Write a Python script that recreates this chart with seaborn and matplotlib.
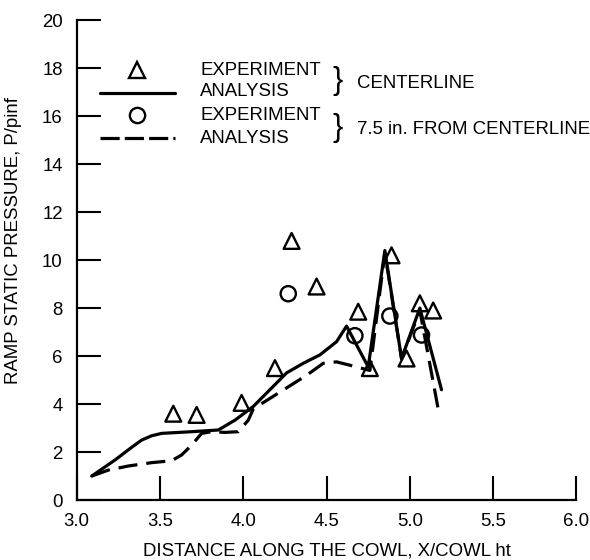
import matplotlib
matplotlib.use("Agg")
import matplotlib.pyplot as plt
import seaborn as sns
import pandas as pd

# ---- data ----
tri_x = [3.58, 3.72, 3.99, 4.19, 4.29, 4.44, 4.69, 4.76, 4.89, 4.98, 5.06, 5.14]
tri_y = [3.6, 3.55, 4.05, 5.5, 10.8, 8.9, 7.85, 5.5, 10.2, 5.9, 8.2, 7.9]

circ_x = [4.27, 4.67, 4.88, 5.07]
circ_y = [8.6, 6.85, 7.67, 6.88]

solid_x = [3.09, 3.23, 3.33, 3.39, 3.45, 3.51, 3.69, 3.85, 3.95, 4.06, 4.16, 4.26, 4.36,
           4.46, 4.56, 4.62, 4.75, 4.85, 4.95, 5.06, 5.19]
solid_y = [1.0, 1.67, 2.2, 2.5, 2.68, 2.78, 2.85, 2.92, 3.33, 3.9, 4.6, 5.3, 5.7,
           6.05, 6.6, 7.25, 5.55, 10.4, 5.9, 8.0, 4.6]

dash_x = [3.09, 3.19, 3.31, 3.45, 3.57, 3.63, 3.69, 3.75, 3.81, 3.89, 3.97,
          4.03, 4.06, 4.22, 4.38, 4.48, 4.56, 4.68, 4.76, 4.85, 4.95, 5.06, 5.17]
dash_y = [1.0, 1.25, 1.42, 1.56, 1.64, 1.88, 2.29, 2.78, 2.85, 2.82, 2.85,
          3.33, 3.8, 4.5, 5.2, 5.7, 5.76, 5.55, 5.4, 10.3, 5.9, 7.9, 3.8]

x_ticks = [3.0, 3.5, 4.0, 4.5, 5.0, 5.5, 6.0]
x_ticklabels = ["3.0", "3.5", "4.0", "4.5", "5.0", "5.5", "6.0"]
y_ticks = [0, 2, 4, 6, 8, 10, 12, 14, 16, 18, 20]

legend_labels = ["EXPERIMENT", "ANALYSIS", "EXPERIMENT", "ANALYSIS"]
group_labels = ["CENTERLINE", "7.5 in. FROM CENTERLINE"]

# ---- style ----
sns.set_style("ticks")
plt.rcParams["font.family"] = ["Liberation Sans", "DejaVu Sans"]
plt.rcParams["text.color"] = "black"
plt.rcParams["axes.labelcolor"] = "black"
plt.rcParams["xtick.color"] = "black"
plt.rcParams["ytick.color"] = "black"
FS = 13.4

fig = plt.figure(figsize=(5.9, 5.6), dpi=100)
ax = fig.add_axes([0.130, 0.107, 0.847, 0.857])

df_solid = pd.DataFrame({"x": solid_x, "y": solid_y})
df_dash = pd.DataFrame({"x": dash_x, "y": dash_y})
df_tri = pd.DataFrame({"x": tri_x, "y": tri_y})
df_circ = pd.DataFrame({"x": circ_x, "y": circ_y})

sns.lineplot(data=df_solid, x="x", y="y", ax=ax, color="black", lw=2.3,
             estimator=None, sort=False)
sns.lineplot(data=df_dash, x="x", y="y", ax=ax, color="black", lw=2.3,
             estimator=None, sort=False, linestyle=(0, (6, 2.8)))
sns.scatterplot(data=df_tri, x="x", y="y", ax=ax, marker="^", s=130,
                facecolors="none", edgecolor="black", linewidth=1.7, zorder=5)
sns.scatterplot(data=df_circ, x="x", y="y", ax=ax, marker="o", s=120,
                facecolors="none", edgecolor="black", linewidth=1.7, zorder=5)

ax.set_xlim(3.0, 6.0)
ax.set_ylim(0, 20)
ax.set_xticks(x_ticks)
ax.set_xticklabels(x_ticklabels)
ax.set_yticks(y_ticks)
ax.tick_params(axis="both", direction="in", length=17, width=1.5,
               labelsize=FS, color="black", labelcolor="black")
ax.tick_params(axis="x", pad=9)
ax.tick_params(axis="y", pad=10)
for s in ["top", "right"]:
    ax.spines[s].set_visible(False)
for s in ["left", "bottom"]:
    ax.spines[s].set_linewidth(1.6)
    ax.spines[s].set_color("black")

ax.set_xlabel("DISTANCE ALONG THE COWL, X/COWL ht", fontsize=FS, labelpad=9)
ax.set_ylabel("RAMP STATIC PRESSURE, P/pinf", fontsize=FS)
ax.yaxis.set_label_coords(-0.109, 0.54)

# ---- legend (drawn in axes fraction) ----
T = ax.transAxes
ax.plot([0.120], [0.896], marker="^", ms=11.5, mfc="none", mec="black",
        mew=1.7, transform=T, clip_on=False)
ax.plot([0.047, 0.197], [0.849, 0.849], color="black", lw=2.3, transform=T)
ax.plot([0.120], [0.802], marker="o", ms=11, mfc="none", mec="black",
        mew=1.7, transform=T, clip_on=False)
ax.plot([0.047, 0.197], [0.754, 0.754], color="black", lw=2.3,
        linestyle=(0, (6, 1.6)), transform=T)
for yy, lab in zip([0.896, 0.851, 0.802, 0.754], legend_labels):
    ax.text(0.247, yy, lab, transform=T, fontsize=FS, va="center", ha="left")
for yy, lab in zip([0.873, 0.776], group_labels):
    ax.text(0.523, yy, "}", transform=T, fontsize=22, va="center",
            ha="center")
    ax.text(0.560, yy - 0.004, lab, transform=T, fontsize=FS, va="center",
            ha="left")

fig.savefig("out.png", dpi=100, facecolor="white")
